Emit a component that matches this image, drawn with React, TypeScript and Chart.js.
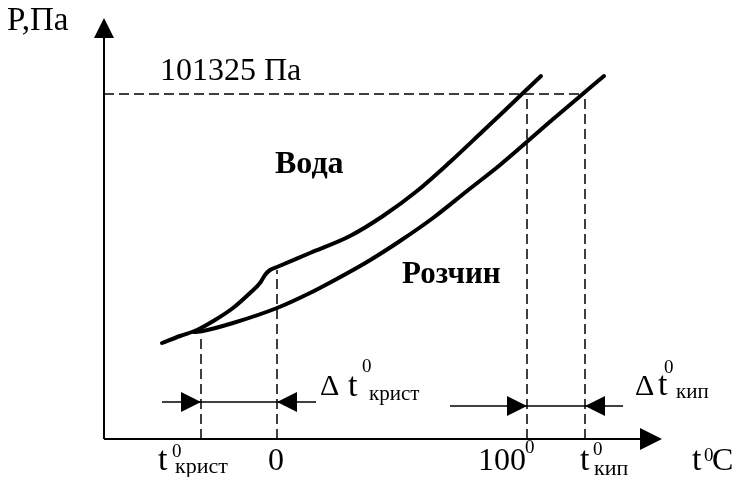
import React, { useEffect, useRef } from "react";
import { Chart, registerables } from "chart.js";

Chart.register(...registerables);

// Schematic units: origin at the axes' crossing
const waterT = [58, 76, 93, 111, 129, 146, 156, 161, 166, 173, 206, 246, 279, 313, 346, 379, 396, 418, 437];
const waterP = [96, 103, 109, 119, 131, 146, 156, 164, 169, 172, 186, 203, 223, 248, 277, 308, 324, 345, 363];
const solutionT = [90, 99, 129, 173, 206, 229, 263, 296, 329, 363, 396, 448, 481, 500];
const solutionP = [107, 108, 116, 131, 146, 158, 177, 198, 221, 248, 274, 319, 347, 363];

const atmPressure = 345;
const markerT = [97, 173, 423, 481]; // t_крист, 0, 100, t_кип
const markerTop = [104, 169, 345, 345];

const axisYTop = 401;
const axisXEnd = 536;

const dimCrystT = [58, 212];
const dimCrystP = 37;
const dimBoilT = [346, 519];
const dimBoilP = 33;

const arrowTipT = [0, 558, 97, 173, 423, 481];
const arrowTipP = [421, 0, 37, 37, 33, 33];
const arrowDir = ["up", "right", "right", "left", "right", "left"];
const arrowLen = [20, 22, 20, 20, 20, 20];
const arrowHalf = [10, 11, 10, 10, 10, 10];

const SERIF = '"Liberation Serif", "Times New Roman", serif';

type Piece = [string, number, number, string];
const labels: Piece[] = [
  ["P,Па", -97, 409, `33px ${SERIF}`],
  ["101325 Па", 56, 359, `32px ${SERIF}`],
  ["Вода", 171, 266, `bold 32px ${SERIF}`],
  ["Розчин", 298, 156, `bold 31px ${SERIF}`],
  ["t", 54, -31, `34px ${SERIF}`],
  ["0", 68, -18, `19px ${SERIF}`],
  ["крист", 71, -34, `22px ${SERIF}`],
  ["0", 164, -31, `32px ${SERIF}`],
  ["100", 374, -31, `32px ${SERIF}`],
  ["0", 421, -14, `19px ${SERIF}`],
  ["t", 476, -31, `34px ${SERIF}`],
  ["0", 489, -16, `19px ${SERIF}`],
  ["кип", 490, -36, `22px ${SERIF}`],
  ["t", 588, -31, `34px ${SERIF}`],
  ["0", 600, -22, `19px ${SERIF}`],
  ["C", 608, -31, `32px ${SERIF}`],
  ["Δ", 216, 44, `30px ${SERIF}`],
  ["t", 244, 43, `34px ${SERIF}`],
  ["0", 258, 67, `19px ${SERIF}`],
  ["крист", 265, 39, `21px ${SERIF}`],
  ["Δ", 531, 44, `30px ${SERIF}`],
  ["t", 554, 44, `34px ${SERIF}`],
  ["0", 560, 66, `19px ${SERIF}`],
  ["кип", 572, 41, `21px ${SERIF}`],
];

const pts = (xs: number[], ys: number[]) => xs.map((x, i) => ({ x, y: ys[i] }));

const overlay = {
  id: "overlay",
  afterDatasetsDraw(chart: any) {
    const { ctx, scales } = chart;
    const sx = scales.x, sy = scales.y;
    ctx.save();
    ctx.fillStyle = "#000";
    arrowTipT.forEach((t, i) => {
      const px = sx.getPixelForValue(t);
      const py = sy.getPixelForValue(arrowTipP[i]);
      const L = arrowLen[i], H = arrowHalf[i];
      ctx.beginPath();
      ctx.moveTo(px, py);
      if (arrowDir[i] === "up") { ctx.lineTo(px - H, py + L); ctx.lineTo(px + H, py + L); }
      else if (arrowDir[i] === "right") { ctx.lineTo(px - L, py - H); ctx.lineTo(px - L, py + H); }
      else { ctx.lineTo(px + L, py - H); ctx.lineTo(px + L, py + H); }
      ctx.closePath();
      ctx.fill();
    });
    ctx.textBaseline = "alphabetic";
    ctx.textAlign = "left";
    labels.forEach(([txt, t, p, font]) => {
      ctx.font = font;
      ctx.fillText(txt, sx.getPixelForValue(t), sy.getPixelForValue(p));
    });
    ctx.restore();
  },
};

export default function App() {
  const ref = useRef<HTMLCanvasElement>(null);
  useEffect(() => {
    if (!ref.current) return;
    const solid = (data: any[], w: number) => ({
      data, borderColor: "#000", borderWidth: w, pointRadius: 0, fill: false,
    });
    const dashed = (data: any[]) => ({
      data, borderColor: "#000", borderWidth: 1.5, borderDash: [10, 5], pointRadius: 0, fill: false,
    });
    const datasets: any[] = [
      dashed([{ x: 0, y: atmPressure }, { x: markerT[3], y: atmPressure }]),
      ...markerT.map((t, i) => dashed([{ x: t, y: 0 }, { x: t, y: markerTop[i] }])),
      solid([{ x: 0, y: 0 }, { x: 0, y: axisYTop }], 2),
      solid([{ x: 0, y: 0 }, { x: axisXEnd, y: 0 }], 2),
      solid([{ x: dimCrystT[0], y: dimCrystP }, { x: dimCrystT[1], y: dimCrystP }], 1.5),
      solid([{ x: dimBoilT[0], y: dimBoilP }, { x: dimBoilT[1], y: dimBoilP }], 1.5),
      { ...solid(pts(waterT, waterP), 4), cubicInterpolationMode: "monotone", borderCapStyle: "round", borderJoinStyle: "round" },
      { ...solid(pts(solutionT, solutionP), 4), cubicInterpolationMode: "monotone", borderCapStyle: "round", borderJoinStyle: "round" },
    ];
    const chart = new Chart(ref.current, {
      type: "line",
      data: { datasets },
      options: {
        animation: false,
        responsive: false,
        devicePixelRatio: 1,
        layout: { padding: 0 },
        plugins: { legend: { display: false }, tooltip: { enabled: false } },
        scales: {
          x: { type: "linear", display: false, min: -104, max: 630 },
          y: { type: "linear", display: false, min: -38, max: 439 },
        },
      },
      plugins: [overlay],
    } as any);
    return () => chart.destroy();
  }, []);
  return (
    <div style={{ position: "fixed", left: 0, top: 0, width: 734, height: 477, background: "#fff" }}>
      <canvas ref={ref} width={734} height={477} style={{ display: "block" }} />
    </div>
  );
}
